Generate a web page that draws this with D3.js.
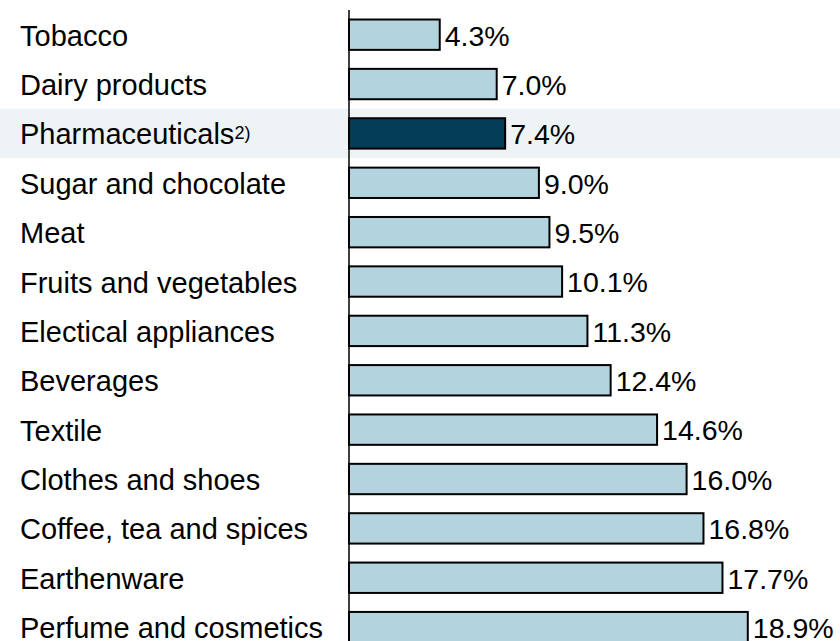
<!DOCTYPE html>
<html>
<head>
<meta charset="utf-8">
<script src="https://cdn.jsdelivr.net/npm/d3@7"></script>
<style>
  html, body { margin: 0; padding: 0; background: #ffffff; }
  svg { display: block; }
  text { font-family: "Liberation Sans", Arial, Helvetica, sans-serif; fill: #000; }
</style>
</head>
<body>
<svg id="chart" width="840" height="641"></svg>
<script>
// Product groups, shares in percent
const categories = [
  "Tobacco", "Dairy products", "Pharmaceuticals", "Sugar and chocolate", "Meat",
  "Fruits and vegetables", "Electical appliances", "Beverages", "Textile",
  "Clothes and shoes", "Coffee, tea and spices", "Earthenware", "Perfume and cosmetics"
];
const values = [4.3, 7.0, 7.4, 9.0, 9.5, 10.1, 11.3, 12.4, 14.6, 16.0, 16.8, 17.7, 18.9];
const footnotes = ["", "", "2)", "", "", "", "", "", "", "", "", "", ""];
const highlighted = ["Pharmaceuticals"];

const svg = d3.select("#chart");
const W = 840;

const x = d3.scaleLinear().domain([0, 20]).range([349, 771]);
const y = d3.scaleBand()
  .domain(categories)
  .range([10, 10 + 49.37 * categories.length])
  .paddingInner(0.385)
  .paddingOuter(0.1925);

const rows = categories.map((c, i) => ({ cat: c, value: values[i], note: footnotes[i], hl: highlighted.includes(c) }));

// highlight band behind the emphasised row
svg.selectAll("rect.band")
  .data(rows.filter(d => d.hl))
  .join("rect")
  .attr("class", "band")
  .attr("x", 0)
  .attr("width", W)
  .attr("y", d => y(d.cat) - y.step() * y.paddingInner() / 2)
  .attr("height", y.step())
  .attr("fill", "#eef3f6");

// bars
svg.selectAll("rect.bar")
  .data(rows)
  .join("rect")
  .attr("class", "bar")
  .attr("x", x(0))
  .attr("y", d => y(d.cat))
  .attr("width", d => x(d.value) - x(0))
  .attr("height", y.bandwidth())
  .attr("fill", d => d.hl ? "#033d56" : "#b3d3de")
  .attr("stroke", "#000")
  .attr("stroke-width", 2);

// vertical axis line
const axis = d3.axisLeft(y).tickSize(0).tickFormat("");
svg.append("g")
  .attr("transform", `translate(${x(0)},0)`)
  .call(axis)
  .call(g => g.select(".domain").attr("stroke", "#000").attr("stroke-width", 1.5)
    .attr("d", `M0,10V${y.range()[1]}`));

// category labels
const lab = svg.selectAll("text.cat")
  .data(rows)
  .join("text")
  .attr("class", "cat")
  .attr("x", 20)
  .attr("y", d => y(d.cat) + y.bandwidth() / 2)
  .attr("dy", "0.38em")
  .style("font-size", "29px");
lab.append("tspan").text(d => d.cat);
lab.filter(d => d.note)
  .append("tspan")
  .attr("dy", -5)
  .style("font-size", "18px")
  .text(d => d.note);

// value labels
const fmt = d3.format(".1f");
svg.selectAll("text.val")
  .data(rows)
  .join("text")
  .attr("class", "val")
  .attr("x", d => x(d.value) + 5)
  .attr("y", d => y(d.cat) + y.bandwidth() / 2)
  .attr("dy", "0.38em")
  .style("font-size", "28.5px")
  .text(d => fmt(d.value) + "%");
</script>
</body>
</html>
